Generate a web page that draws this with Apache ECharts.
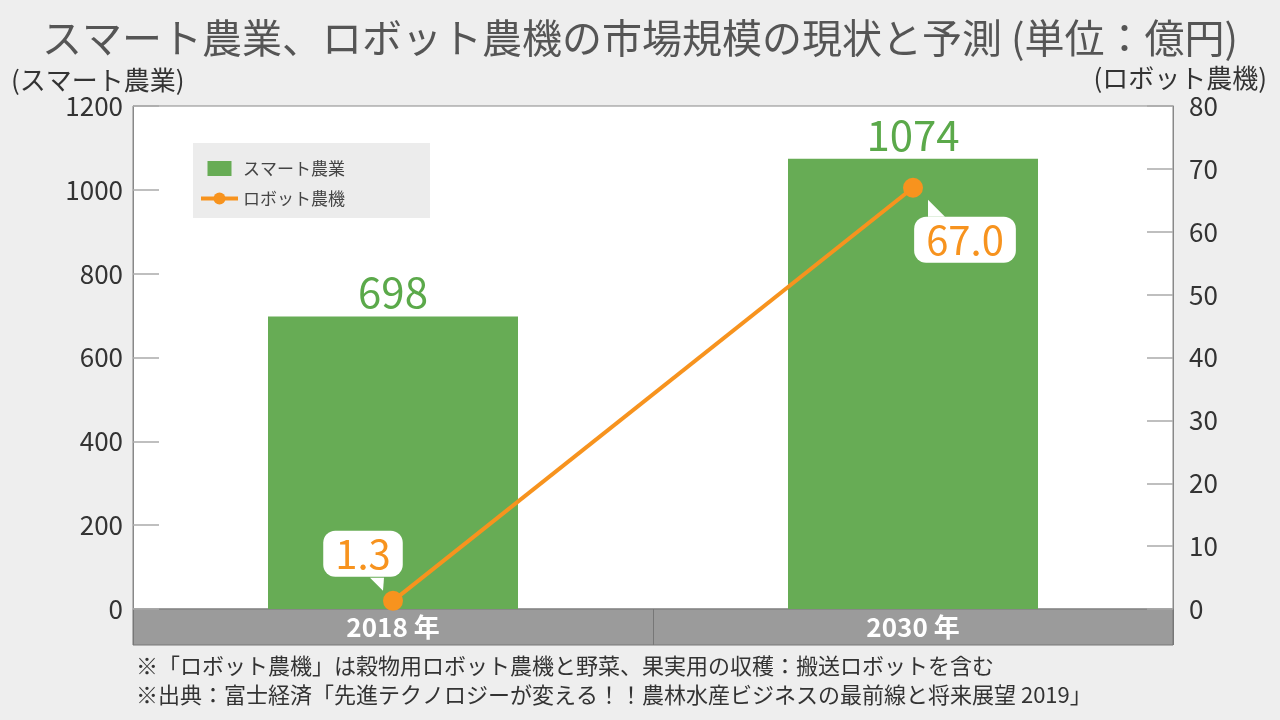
<!DOCTYPE html>
<html><head><meta charset="utf-8">
<script src="https://cdn.jsdelivr.net/npm/echarts@6/dist/echarts.min.js"></script>
<style>html,body{margin:0;padding:0;background:#eeeeee}#c{width:1280px;height:720px}</style>
</head><body><div id="c"></div>
<script>
const categories = ['2018 年', '2030 年'];
const smartAgri = [698, 1074];
const robotMachines = [1.3, 67.0];
const leftTicks = [0, 1200, 200];
const rightTicks = [0, 80, 10];
const seriesNames = ['スマート農業', 'ロボット農機'];
const titleText = 'スマート農業、ロボット農機の市場規模の現状と予測 (単位：億円)';
const leftName = '(スマート農業)';
const rightName = '(ロボット農機)';
const notes = [
  '※「ロボット農機」は穀物用ロボット農機と野菜、果実用の収穫：搬送ロボットを含む',
  '※出典：富士経済「先進テクノロジーが変える！！農林水産ビジネスの最前線と将来展望 2019」'
];

const FONT = '"Noto Sans CJK JP", "Noto Sans", sans-serif';
const GREEN = '#67ac55', LGREEN = '#5ba94a', ORANGE = '#f7931e';
// callout label offsets and tail shapes (styling, relative to point)
const labelOffsets = [[-30, -47], [52, 52]];
const tailShapes = [
  [[-10, -10], [-23, -23], [-9, -23]],
  [[15, 12], [15, 29], [32, 29]]
];

const chart = echarts.init(document.getElementById('c'));
chart.setOption({
  backgroundColor: '#eeeeee',
  textStyle: { fontFamily: FONT },
  title: [
    { text: titleText, left: 'center', top: 13, textStyle: { fontSize: 40, fontWeight: 'normal', color: '#555', fontFamily: FONT } },
    { text: leftName, left: 6, top: 62, textStyle: { fontSize: 26, fontWeight: 'normal', color: '#333', fontFamily: FONT } },
    { text: rightName, right: 8, top: 60, textStyle: { fontSize: 26, fontWeight: 'normal', color: '#333', fontFamily: FONT } },
    { text: notes[0], left: 131, top: 650, textStyle: { fontSize: 22, fontWeight: 'normal', color: '#333', fontFamily: FONT } },
    { text: notes[1], left: 131, top: 679, textStyle: { fontSize: 22, fontWeight: 'normal', color: '#333', fontFamily: FONT } }
  ],
  legend: {
    orient: 'vertical', left: 193, top: 143,
    backgroundColor: '#ececec', padding: [17, 85, 11, 6], itemGap: 13,
    itemWidth: 37, itemHeight: 15,
    textStyle: { fontSize: 17, color: '#444', fontFamily: FONT },
    data: [
      { name: seriesNames[0], icon: 'path://M0,0h24v15h-24z' },
      { name: seriesNames[1], lineStyle: { width: 4 } }
    ]
  },
  grid: [
    { left: 133, right: 107, top: 106, bottom: 111, show: true, backgroundColor: '#ffffff', borderColor: '#888', borderWidth: 1 },
    { left: 133, right: 107, top: 609, height: 36, show: true, backgroundColor: '#9b9b9b', borderColor: '#777', borderWidth: 1 }
  ],
  xAxis: [
    { gridIndex: 0, type: 'category', data: categories, axisLine: { show: false }, axisTick: { show: false }, axisLabel: { show: false } },
    { gridIndex: 1, type: 'category', data: categories, axisLine: { show: false }, axisTick: { show: false },
      splitLine: { show: true, lineStyle: { color: '#777', width: 1 } },
      axisLabel: { inside: true, margin: 18, verticalAlign: 'middle', color: '#fff', fontSize: 26, fontWeight: 'bold', fontFamily: FONT } }
  ],
  yAxis: [
    { gridIndex: 0, type: 'value', min: leftTicks[0], max: leftTicks[1], interval: leftTicks[2],
      axisLine: { show: true, lineStyle: { color: '#888' } },
      axisTick: { show: true, inside: true, length: 26, lineStyle: { color: '#aaa', width: 1.5 } },
      splitLine: { show: false },
      axisLabel: { fontSize: 26, color: '#333', margin: 10, fontFamily: FONT, formatter: v => String(v) } },
    { gridIndex: 0, type: 'value', position: 'right', min: rightTicks[0], max: rightTicks[1], interval: rightTicks[2],
      axisLine: { show: true, lineStyle: { color: '#888' } },
      axisTick: { show: true, inside: true, length: 26, lineStyle: { color: '#aaa', width: 1.5 } },
      splitLine: { show: false },
      axisLabel: { fontSize: 26, color: '#333', margin: 16, fontFamily: FONT, formatter: v => String(v) } },
    { gridIndex: 1, type: 'value', show: false }
  ],
  series: [
    { name: seriesNames[0], type: 'bar', xAxisIndex: 0, yAxisIndex: 0, data: smartAgri, barWidth: 250,
      itemStyle: { color: GREEN },
      label: { show: true, position: 'top', distance: 3, fontSize: 42, color: LGREEN, fontFamily: FONT } },
    { name: seriesNames[1], type: 'line', xAxisIndex: 0, yAxisIndex: 1,
      data: robotMachines.map((v, i) => ({ value: v, label: { offset: labelOffsets[i] } })),
      symbol: 'circle', symbolSize: 20, z: 5,
      lineStyle: { color: ORANGE, width: 4 }, itemStyle: { color: ORANGE },
      label: { show: true, position: 'inside', formatter: p => Number(p.value).toFixed(1),
        fontSize: 40, color: ORANGE, backgroundColor: '#fff', borderRadius: 12, padding: [4, 12, 2, 12], fontFamily: FONT } },
    { type: 'custom', xAxisIndex: 0, yAxisIndex: 1, z: 6, silent: true,
      data: robotMachines.map((v, i) => [i, v]),
      renderItem: (params, api) => {
        const p = api.coord([api.value(0), api.value(1)]);
        const shape = tailShapes[params.dataIndex];
        return { type: 'polygon', shape: { points: shape.map(d => [p[0] + d[0], p[1] + d[1]]) }, style: { fill: '#fff' } };
      } }
  ]
});
</script></body></html>
